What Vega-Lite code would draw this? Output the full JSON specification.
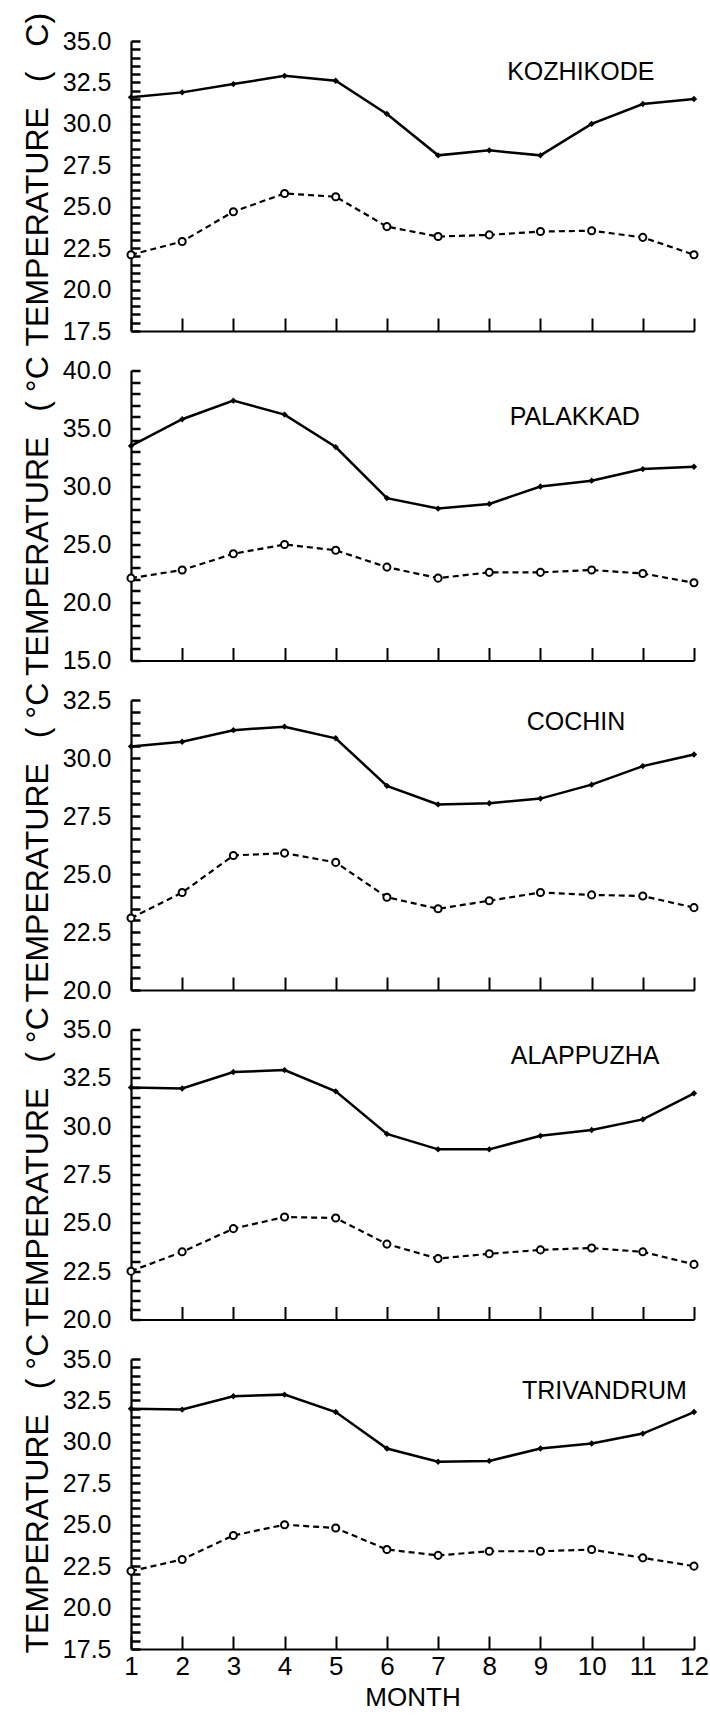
{
  "$schema": "https://vega.github.io/schema/vega-lite/v6.json",
  "background": "white",
  "padding": {"left": 21, "top": 12, "right": 5, "bottom": 5},
  "config": {"view": {"stroke": null}},
  "data": {"values": [
    {"station":"KOZHIKODE","kind":"max","month":1,"temp":31.6},
    {"station":"KOZHIKODE","kind":"max","month":2,"temp":31.9},
    {"station":"KOZHIKODE","kind":"max","month":3,"temp":32.4},
    {"station":"KOZHIKODE","kind":"max","month":4,"temp":32.9},
    {"station":"KOZHIKODE","kind":"max","month":5,"temp":32.6},
    {"station":"KOZHIKODE","kind":"max","month":6,"temp":30.6},
    {"station":"KOZHIKODE","kind":"max","month":7,"temp":28.1},
    {"station":"KOZHIKODE","kind":"max","month":8,"temp":28.4},
    {"station":"KOZHIKODE","kind":"max","month":9,"temp":28.1},
    {"station":"KOZHIKODE","kind":"max","month":10,"temp":30.0},
    {"station":"KOZHIKODE","kind":"max","month":11,"temp":31.2},
    {"station":"KOZHIKODE","kind":"max","month":12,"temp":31.5},
    {"station":"KOZHIKODE","kind":"min","month":1,"temp":22.1},
    {"station":"KOZHIKODE","kind":"min","month":2,"temp":22.9},
    {"station":"KOZHIKODE","kind":"min","month":3,"temp":24.7},
    {"station":"KOZHIKODE","kind":"min","month":4,"temp":25.8},
    {"station":"KOZHIKODE","kind":"min","month":5,"temp":25.6},
    {"station":"KOZHIKODE","kind":"min","month":6,"temp":23.8},
    {"station":"KOZHIKODE","kind":"min","month":7,"temp":23.2},
    {"station":"KOZHIKODE","kind":"min","month":8,"temp":23.3},
    {"station":"KOZHIKODE","kind":"min","month":9,"temp":23.5},
    {"station":"KOZHIKODE","kind":"min","month":10,"temp":23.55},
    {"station":"KOZHIKODE","kind":"min","month":11,"temp":23.15},
    {"station":"KOZHIKODE","kind":"min","month":12,"temp":22.1},
    {"station":"PALAKKAD","kind":"max","month":1,"temp":33.5},
    {"station":"PALAKKAD","kind":"max","month":2,"temp":35.8},
    {"station":"PALAKKAD","kind":"max","month":3,"temp":37.4},
    {"station":"PALAKKAD","kind":"max","month":4,"temp":36.2},
    {"station":"PALAKKAD","kind":"max","month":5,"temp":33.4},
    {"station":"PALAKKAD","kind":"max","month":6,"temp":29.0},
    {"station":"PALAKKAD","kind":"max","month":7,"temp":28.1},
    {"station":"PALAKKAD","kind":"max","month":8,"temp":28.5},
    {"station":"PALAKKAD","kind":"max","month":9,"temp":30.0},
    {"station":"PALAKKAD","kind":"max","month":10,"temp":30.5},
    {"station":"PALAKKAD","kind":"max","month":11,"temp":31.5},
    {"station":"PALAKKAD","kind":"max","month":12,"temp":31.7},
    {"station":"PALAKKAD","kind":"min","month":1,"temp":22.1},
    {"station":"PALAKKAD","kind":"min","month":2,"temp":22.8},
    {"station":"PALAKKAD","kind":"min","month":3,"temp":24.2},
    {"station":"PALAKKAD","kind":"min","month":4,"temp":25.0},
    {"station":"PALAKKAD","kind":"min","month":5,"temp":24.5},
    {"station":"PALAKKAD","kind":"min","month":6,"temp":23.05},
    {"station":"PALAKKAD","kind":"min","month":7,"temp":22.1},
    {"station":"PALAKKAD","kind":"min","month":8,"temp":22.6},
    {"station":"PALAKKAD","kind":"min","month":9,"temp":22.6},
    {"station":"PALAKKAD","kind":"min","month":10,"temp":22.8},
    {"station":"PALAKKAD","kind":"min","month":11,"temp":22.5},
    {"station":"PALAKKAD","kind":"min","month":12,"temp":21.7},
    {"station":"COCHIN","kind":"max","month":1,"temp":30.5},
    {"station":"COCHIN","kind":"max","month":2,"temp":30.7},
    {"station":"COCHIN","kind":"max","month":3,"temp":31.2},
    {"station":"COCHIN","kind":"max","month":4,"temp":31.35},
    {"station":"COCHIN","kind":"max","month":5,"temp":30.85},
    {"station":"COCHIN","kind":"max","month":6,"temp":28.8},
    {"station":"COCHIN","kind":"max","month":7,"temp":28.0},
    {"station":"COCHIN","kind":"max","month":8,"temp":28.05},
    {"station":"COCHIN","kind":"max","month":9,"temp":28.25},
    {"station":"COCHIN","kind":"max","month":10,"temp":28.85},
    {"station":"COCHIN","kind":"max","month":11,"temp":29.65},
    {"station":"COCHIN","kind":"max","month":12,"temp":30.15},
    {"station":"COCHIN","kind":"min","month":1,"temp":23.1},
    {"station":"COCHIN","kind":"min","month":2,"temp":24.2},
    {"station":"COCHIN","kind":"min","month":3,"temp":25.8},
    {"station":"COCHIN","kind":"min","month":4,"temp":25.9},
    {"station":"COCHIN","kind":"min","month":5,"temp":25.5},
    {"station":"COCHIN","kind":"min","month":6,"temp":24.0},
    {"station":"COCHIN","kind":"min","month":7,"temp":23.5},
    {"station":"COCHIN","kind":"min","month":8,"temp":23.85},
    {"station":"COCHIN","kind":"min","month":9,"temp":24.2},
    {"station":"COCHIN","kind":"min","month":10,"temp":24.1},
    {"station":"COCHIN","kind":"min","month":11,"temp":24.05},
    {"station":"COCHIN","kind":"min","month":12,"temp":23.55},
    {"station":"ALAPPUZHA","kind":"max","month":1,"temp":32.0},
    {"station":"ALAPPUZHA","kind":"max","month":2,"temp":31.95},
    {"station":"ALAPPUZHA","kind":"max","month":3,"temp":32.8},
    {"station":"ALAPPUZHA","kind":"max","month":4,"temp":32.9},
    {"station":"ALAPPUZHA","kind":"max","month":5,"temp":31.8},
    {"station":"ALAPPUZHA","kind":"max","month":6,"temp":29.6},
    {"station":"ALAPPUZHA","kind":"max","month":7,"temp":28.8},
    {"station":"ALAPPUZHA","kind":"max","month":8,"temp":28.8},
    {"station":"ALAPPUZHA","kind":"max","month":9,"temp":29.5},
    {"station":"ALAPPUZHA","kind":"max","month":10,"temp":29.8},
    {"station":"ALAPPUZHA","kind":"max","month":11,"temp":30.35},
    {"station":"ALAPPUZHA","kind":"max","month":12,"temp":31.7},
    {"station":"ALAPPUZHA","kind":"min","month":1,"temp":22.5},
    {"station":"ALAPPUZHA","kind":"min","month":2,"temp":23.5},
    {"station":"ALAPPUZHA","kind":"min","month":3,"temp":24.7},
    {"station":"ALAPPUZHA","kind":"min","month":4,"temp":25.3},
    {"station":"ALAPPUZHA","kind":"min","month":5,"temp":25.25},
    {"station":"ALAPPUZHA","kind":"min","month":6,"temp":23.9},
    {"station":"ALAPPUZHA","kind":"min","month":7,"temp":23.15},
    {"station":"ALAPPUZHA","kind":"min","month":8,"temp":23.4},
    {"station":"ALAPPUZHA","kind":"min","month":9,"temp":23.6},
    {"station":"ALAPPUZHA","kind":"min","month":10,"temp":23.7},
    {"station":"ALAPPUZHA","kind":"min","month":11,"temp":23.5},
    {"station":"ALAPPUZHA","kind":"min","month":12,"temp":22.85},
    {"station":"TRIVANDRUM","kind":"max","month":1,"temp":32.0},
    {"station":"TRIVANDRUM","kind":"max","month":2,"temp":31.95},
    {"station":"TRIVANDRUM","kind":"max","month":3,"temp":32.75},
    {"station":"TRIVANDRUM","kind":"max","month":4,"temp":32.85},
    {"station":"TRIVANDRUM","kind":"max","month":5,"temp":31.8},
    {"station":"TRIVANDRUM","kind":"max","month":6,"temp":29.6},
    {"station":"TRIVANDRUM","kind":"max","month":7,"temp":28.8},
    {"station":"TRIVANDRUM","kind":"max","month":8,"temp":28.85},
    {"station":"TRIVANDRUM","kind":"max","month":9,"temp":29.6},
    {"station":"TRIVANDRUM","kind":"max","month":10,"temp":29.9},
    {"station":"TRIVANDRUM","kind":"max","month":11,"temp":30.5},
    {"station":"TRIVANDRUM","kind":"max","month":12,"temp":31.8},
    {"station":"TRIVANDRUM","kind":"min","month":1,"temp":22.2},
    {"station":"TRIVANDRUM","kind":"min","month":2,"temp":22.9},
    {"station":"TRIVANDRUM","kind":"min","month":3,"temp":24.35},
    {"station":"TRIVANDRUM","kind":"min","month":4,"temp":25.0},
    {"station":"TRIVANDRUM","kind":"min","month":5,"temp":24.8},
    {"station":"TRIVANDRUM","kind":"min","month":6,"temp":23.5},
    {"station":"TRIVANDRUM","kind":"min","month":7,"temp":23.15},
    {"station":"TRIVANDRUM","kind":"min","month":8,"temp":23.4},
    {"station":"TRIVANDRUM","kind":"min","month":9,"temp":23.4},
    {"station":"TRIVANDRUM","kind":"min","month":10,"temp":23.5},
    {"station":"TRIVANDRUM","kind":"min","month":11,"temp":23.0},
    {"station":"TRIVANDRUM","kind":"min","month":12,"temp":22.5}
  ]},
  "spacing": 39.5,
  "bounds": "flush",
  "vconcat": [
    {
      "width": 563, "height": 290,
      "transform": [{"filter": "datum.station === 'KOZHIKODE'"}],
      "encoding": {
        "x": {"field": "month", "type": "quantitative", "scale": {"domain": [1, 12], "nice": false, "zero": false},
          "axis": {"values": [1,2,3,4,5,6,7,8,9,10,11,12], "labels": false, "title": null, "grid": false, "tickSize": -13, "tickWidth": 2, "tickColor": "black", "domainColor": "black", "domainWidth": 2.2}},
        "y": {"field": "temp", "type": "quantitative", "scale": {"domain": [17.5, 35], "nice": false, "zero": false},
          "axis": {"values": [17.5,18,18.5,19,19.5,20,20.5,21,21.5,22,22.5,23,23.5,24,24.5,25,25.5,26,26.5,27,27.5,28,28.5,29,29.5,30,30.5,31,31.5,32,32.5,33,33.5,34,34.5,35],
            "labelExpr": "datum.value % 2.5 === 0 ? format(datum.value, '.1f') : ''", "labelOverlap": false,
            "labelFont": "Liberation Sans", "labelFontSize": 25, "labelColor": "black", "labelPadding": 29,
            "grid": false, "ticks": true, "tickWidth": 2.5, "tickColor": "black", "domainColor": "black", "domainWidth": 2.2,
            "tickSize": -9,
            "title": "TEMPERATURE\u2002 (\u2002 C)", "titleFont": "Liberation Sans", "titleFontSize": 32, "titleFontWeight": "normal", "titleColor": "black", "titlePadding": 8, "titleAlign": "left", "titleY": 305}}
      },
      "layer": [
        {"transform": [{"filter": "datum.kind === 'max'"}], "mark": {"type": "line", "color": "black", "strokeWidth": 2.5}},
        {"transform": [{"filter": "datum.kind === 'max'"}], "mark": {"type": "point", "shape": "diamond", "filled": true, "color": "black", "size": 40, "opacity": 1}},
        {"transform": [{"filter": "datum.kind === 'min'"}], "mark": {"type": "line", "color": "black", "strokeWidth": 2.2, "strokeDash": [6, 4]}},
        {"transform": [{"filter": "datum.kind === 'min'"}], "mark": {"type": "point", "shape": "circle", "filled": true, "fill": "white", "stroke": "black", "strokeWidth": 2, "size": 50, "opacity": 1}},
        {"transform": [{"filter": "datum.kind === 'max' && datum.month === 1"}], "mark": {"type": "text", "align": "left", "baseline": "alphabetic", "font": "Liberation Sans", "fontSize": 25, "color": "black"},
          "encoding": {"x": {"datum": 8.35}, "y": {"datum": 32.65}, "text": {"field": "station"}}}
      ]
    },
    {
      "width": 563, "height": 290,
      "transform": [{"filter": "datum.station === 'PALAKKAD'"}],
      "encoding": {
        "x": {"field": "month", "type": "quantitative", "scale": {"domain": [1, 12], "nice": false, "zero": false},
          "axis": {"values": [1,2,3,4,5,6,7,8,9,10,11,12], "labels": false, "title": null, "grid": false, "tickSize": -13, "tickWidth": 2, "tickColor": "black", "domainColor": "black", "domainWidth": 2.2}},
        "y": {"field": "temp", "type": "quantitative", "scale": {"domain": [15, 40], "nice": false, "zero": false},
          "axis": {"values": [15,16,17,18,19,20,21,22,23,24,25,26,27,28,29,30,31,32,33,34,35,36,37,38,39,40],
            "labelExpr": "datum.value % 5 === 0 ? format(datum.value, '.1f') : ''", "labelOverlap": false,
            "labelFont": "Liberation Sans", "labelFontSize": 25, "labelColor": "black", "labelPadding": 29,
            "grid": false, "ticks": true, "tickWidth": 2.5, "tickColor": "black", "domainColor": "black", "domainWidth": 2.2,
            "tickSize": -9,
            "title": "TEMPERATURE\u2002 ( °C", "titleFont": "Liberation Sans", "titleFontSize": 32, "titleFontWeight": "normal", "titleColor": "black", "titlePadding": 8, "titleAlign": "left", "titleY": 305}}
      },
      "layer": [
        {"transform": [{"filter": "datum.kind === 'max'"}], "mark": {"type": "line", "color": "black", "strokeWidth": 2.5}},
        {"transform": [{"filter": "datum.kind === 'max'"}], "mark": {"type": "point", "shape": "diamond", "filled": true, "color": "black", "size": 40, "opacity": 1}},
        {"transform": [{"filter": "datum.kind === 'min'"}], "mark": {"type": "line", "color": "black", "strokeWidth": 2.2, "strokeDash": [6, 4]}},
        {"transform": [{"filter": "datum.kind === 'min'"}], "mark": {"type": "point", "shape": "circle", "filled": true, "fill": "white", "stroke": "black", "strokeWidth": 2, "size": 50, "opacity": 1}},
        {"transform": [{"filter": "datum.kind === 'max' && datum.month === 1"}], "mark": {"type": "text", "align": "left", "baseline": "alphabetic", "font": "Liberation Sans", "fontSize": 25, "color": "black"},
          "encoding": {"x": {"datum": 8.4}, "y": {"datum": 35.26}, "text": {"field": "station"}}}
      ]
    },
    {
      "width": 563, "height": 290,
      "transform": [{"filter": "datum.station === 'COCHIN'"}],
      "encoding": {
        "x": {"field": "month", "type": "quantitative", "scale": {"domain": [1, 12], "nice": false, "zero": false},
          "axis": {"values": [1,2,3,4,5,6,7,8,9,10,11,12], "labels": false, "title": null, "grid": false, "tickSize": -13, "tickWidth": 2, "tickColor": "black", "domainColor": "black", "domainWidth": 2.2}},
        "y": {"field": "temp", "type": "quantitative", "scale": {"domain": [20, 32.5], "nice": false, "zero": false},
          "axis": {"values": [20,20.5,21,21.5,22,22.5,23,23.5,24,24.5,25,25.5,26,26.5,27,27.5,28,28.5,29,29.5,30,30.5,31,31.5,32,32.5],
            "labelExpr": "datum.value % 2.5 === 0 ? format(datum.value, '.1f') : ''", "labelOverlap": false,
            "labelFont": "Liberation Sans", "labelFontSize": 25, "labelColor": "black", "labelPadding": 29,
            "grid": false, "ticks": true, "tickWidth": 2.5, "tickColor": "black", "domainColor": "black", "domainWidth": 2.2,
            "tickSize": -9,
            "title": "TEMPERATURE\u2002 ( °C", "titleFont": "Liberation Sans", "titleFontSize": 32, "titleFontWeight": "normal", "titleColor": "black", "titlePadding": 8, "titleAlign": "left", "titleY": 302}}
      },
      "layer": [
        {"transform": [{"filter": "datum.kind === 'max'"}], "mark": {"type": "line", "color": "black", "strokeWidth": 2.5}},
        {"transform": [{"filter": "datum.kind === 'max'"}], "mark": {"type": "point", "shape": "diamond", "filled": true, "color": "black", "size": 40, "opacity": 1}},
        {"transform": [{"filter": "datum.kind === 'min'"}], "mark": {"type": "line", "color": "black", "strokeWidth": 2.2, "strokeDash": [6, 4]}},
        {"transform": [{"filter": "datum.kind === 'min'"}], "mark": {"type": "point", "shape": "circle", "filled": true, "fill": "white", "stroke": "black", "strokeWidth": 2, "size": 50, "opacity": 1}},
        {"transform": [{"filter": "datum.kind === 'max' && datum.month === 1"}], "mark": {"type": "text", "align": "left", "baseline": "alphabetic", "font": "Liberation Sans", "fontSize": 25, "color": "black"},
          "encoding": {"x": {"datum": 8.73}, "y": {"datum": 31.21}, "text": {"field": "station"}}}
      ]
    },
    {
      "width": 563, "height": 290,
      "transform": [{"filter": "datum.station === 'ALAPPUZHA'"}],
      "encoding": {
        "x": {"field": "month", "type": "quantitative", "scale": {"domain": [1, 12], "nice": false, "zero": false},
          "axis": {"values": [1,2,3,4,5,6,7,8,9,10,11,12], "labels": false, "title": null, "grid": false, "tickSize": -13, "tickWidth": 2, "tickColor": "black", "domainColor": "black", "domainWidth": 2.2}},
        "y": {"field": "temp", "type": "quantitative", "scale": {"domain": [20, 35], "nice": false, "zero": false},
          "axis": {"values": [20,20.5,21,21.5,22,22.5,23,23.5,24,24.5,25,25.5,26,26.5,27,27.5,28,28.5,29,29.5,30,30.5,31,31.5,32,32.5,33,33.5,34,34.5,35],
            "labelExpr": "datum.value % 2.5 === 0 ? format(datum.value, '.1f') : ''", "labelOverlap": false,
            "labelFont": "Liberation Sans", "labelFontSize": 25, "labelColor": "black", "labelPadding": 29,
            "grid": false, "ticks": true, "tickWidth": 2.5, "tickColor": "black", "domainColor": "black", "domainWidth": 2.2,
            "tickSize": -9,
            "title": "TEMPERATURE\u2002 ( °C", "titleFont": "Liberation Sans", "titleFontSize": 32, "titleFontWeight": "normal", "titleColor": "black", "titlePadding": 8, "titleAlign": "left", "titleY": 297}}
      },
      "layer": [
        {"transform": [{"filter": "datum.kind === 'max'"}], "mark": {"type": "line", "color": "black", "strokeWidth": 2.5}},
        {"transform": [{"filter": "datum.kind === 'max'"}], "mark": {"type": "point", "shape": "diamond", "filled": true, "color": "black", "size": 40, "opacity": 1}},
        {"transform": [{"filter": "datum.kind === 'min'"}], "mark": {"type": "line", "color": "black", "strokeWidth": 2.2, "strokeDash": [6, 4]}},
        {"transform": [{"filter": "datum.kind === 'min'"}], "mark": {"type": "point", "shape": "circle", "filled": true, "fill": "white", "stroke": "black", "strokeWidth": 2, "size": 50, "opacity": 1}},
        {"transform": [{"filter": "datum.kind === 'max' && datum.month === 1"}], "mark": {"type": "text", "align": "left", "baseline": "alphabetic", "font": "Liberation Sans", "fontSize": 25, "color": "black"},
          "encoding": {"x": {"datum": 8.42}, "y": {"datum": 33.19}, "text": {"field": "station"}}}
      ]
    },
    {
      "width": 563, "height": 290,
      "transform": [{"filter": "datum.station === 'TRIVANDRUM'"}],
      "encoding": {
        "x": {"field": "month", "type": "quantitative", "scale": {"domain": [1, 12], "nice": false, "zero": false},
          "axis": {"values": [1,2,3,4,5,6,7,8,9,10,11,12], "labels": true, "labelFlush": false, "labelFont": "Liberation Sans", "labelFontSize": 26, "labelColor": "black", "labelPadding": 17,
            "title": "MONTH", "titleFont": "Liberation Sans", "titleFontSize": 26, "titleFontWeight": "normal", "titleColor": "black", "titlePadding": 5,
            "grid": false, "tickSize": -13, "tickWidth": 2, "tickColor": "black", "domainColor": "black", "domainWidth": 2.2}},
        "y": {"field": "temp", "type": "quantitative", "scale": {"domain": [17.5, 35], "nice": false, "zero": false},
          "axis": {"values": [17.5,18,18.5,19,19.5,20,20.5,21,21.5,22,22.5,23,23.5,24,24.5,25,25.5,26,26.5,27,27.5,28,28.5,29,29.5,30,30.5,31,31.5,32,32.5,33,33.5,34,34.5,35],
            "labelExpr": "datum.value % 2.5 === 0 ? format(datum.value, '.1f') : ''", "labelOverlap": false,
            "labelFont": "Liberation Sans", "labelFontSize": 25, "labelColor": "black", "labelPadding": 29,
            "grid": false, "ticks": true, "tickWidth": 2.5, "tickColor": "black", "domainColor": "black", "domainWidth": 2.2,
            "tickSize": -9,
            "title": "TEMPERATURE\u2002 ( °C", "titleFont": "Liberation Sans", "titleFontSize": 32, "titleFontWeight": "normal", "titleColor": "black", "titlePadding": 8, "titleAlign": "left", "titleY": 294}}
      },
      "layer": [
        {"transform": [{"filter": "datum.kind === 'max'"}], "mark": {"type": "line", "color": "black", "strokeWidth": 2.5}},
        {"transform": [{"filter": "datum.kind === 'max'"}], "mark": {"type": "point", "shape": "diamond", "filled": true, "color": "black", "size": 40, "opacity": 1}},
        {"transform": [{"filter": "datum.kind === 'min'"}], "mark": {"type": "line", "color": "black", "strokeWidth": 2.2, "strokeDash": [6, 4]}},
        {"transform": [{"filter": "datum.kind === 'min'"}], "mark": {"type": "point", "shape": "circle", "filled": true, "fill": "white", "stroke": "black", "strokeWidth": 2, "size": 50, "opacity": 1}},
        {"transform": [{"filter": "datum.kind === 'max' && datum.month === 1"}], "mark": {"type": "text", "align": "left", "baseline": "alphabetic", "font": "Liberation Sans", "fontSize": 25, "color": "black"},
          "encoding": {"x": {"datum": 8.64}, "y": {"datum": 32.6}, "text": {"field": "station"}}}
      ]
    }
  ]
}
